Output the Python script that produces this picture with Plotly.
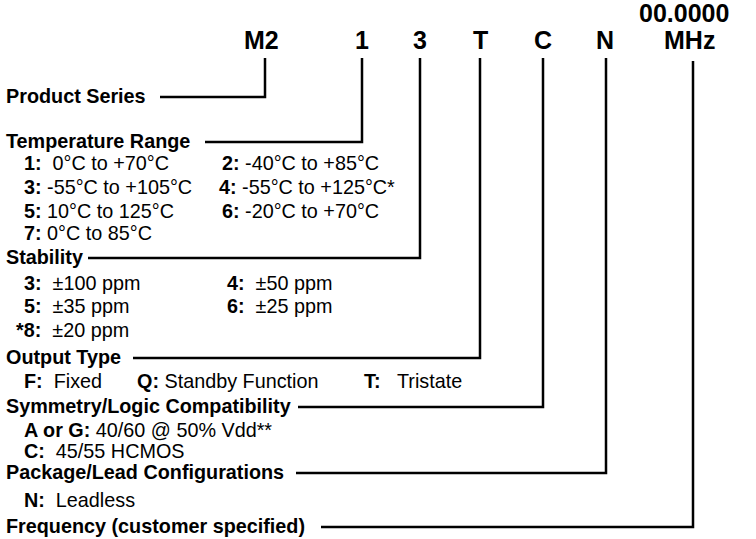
import plotly.graph_objects as go

# ---- content -------------------------------------------------------------
codes = ["M2", "1", "3", "T", "C", "N", "MHz"]
freq_placeholder = "00.0000"
headers = ["Product Series", "Temperature Range", "Stability", "Output Type",
           "Symmetry/Logic Compatibility", "Package/Lead Configurations",
           "Frequency (customer specified)"]

temp_keys = ["1", "2", "3", "4", "5", "6", "7"]
temp_vals = ["0°C to +70°C", "-40°C to +85°C", "-55°C to +105°C",
             "-55°C to +125°C*", "10°C to 125°C", "-20°C to +70°C", "0°C to 85°C"]
stab_keys = ["3", "4", "5", "6", "*8"]
stab_vals = ["±100 ppm", "±50 ppm", "±35 ppm", "±25 ppm", "±20 ppm"]
out_keys = ["F", "Q", "T"]
out_vals = ["Fixed", "Standby Function", "Tristate"]
sym_keys = ["A or G", "C"]
sym_vals = ["40/60 @ 50% Vdd**", "45/55 HCMOS"]
pkg_keys = ["N"]
pkg_vals = ["Leadless"]

# ---- layout geometry (pixels, y downward) ---------------------------------
W, H = 756, 539
code_text_x = [261, 362, 420, 480, 543, 605, 689]
code_line_x = [265, 362, 420, 480, 543, 606, 693]
code_y = 40
line_top = [58, 58, 58, 58, 58, 58, 61]
header_y = [97, 142, 258, 358, 407, 473, 527]
header_line_start = [160, 205, 88, 133, 298, 296, 321]

FONT = "Arial, Liberation Sans, sans-serif"
HS = 19.8  # header / item font size
CS = 25    # code font size
NB = "\u00a0"

fig = go.Figure()

# connector lines
for i in range(len(codes)):
    fig.add_trace(go.Scatter(
        x=[header_line_start[i], code_line_x[i], code_line_x[i]],
        y=[header_y[i], header_y[i], line_top[i]],
        mode="lines", line=dict(color="black", width=2.5),
        hoverinfo="skip", showlegend=False))

ann = []
def text(x, y, s, size=HS, anchor="left", bold=False):
    ann.append(dict(x=x, y=y, xref="x", yref="y", text=("<b>%s</b>" % s) if bold else s,
                    showarrow=False, xanchor=anchor, yanchor="middle",
                    font=dict(family=FONT, size=size, color="black")))

# codes
for c, x in zip(codes, code_text_x):
    text(x, code_y, c, CS, "center", True)
text(684, 13, freq_placeholder, CS, "center", True)

# headers
for h, y in zip(headers, header_y):
    text(4, y - 1, h, HS, "left", True)

def item(x, y, k, v, gap=2):
    text(x, y, "<b>%s:</b>%s%s" % (k, NB * gap, v), HS, "left", False)

# temperature options
temp_pos = [(22, 163, 2), (220, 163, 1), (22, 187, 1), (217, 187, 1),
            (22, 211, 1), (220, 211, 1), (22, 233, 1)]
for (x, y, g), k, v in zip(temp_pos, temp_keys, temp_vals):
    item(x, y, k, v, g)

stab_pos = [(22, 283, 2), (225, 283, 2), (22, 306, 2), (225, 306, 2), (14, 330, 2)]
for (x, y, g), k, v in zip(stab_pos, stab_keys, stab_vals):
    item(x, y, k, v, g)

out_pos = [(22, 381, 2), (135, 381, 1), (362, 381, 3)]
for (x, y, g), k, v in zip(out_pos, out_keys, out_vals):
    item(x, y, k, v, g)

sym_pos = [(22, 430, 1), (22, 451, 2)]
for (x, y, g), k, v in zip(sym_pos, sym_keys, sym_vals):
    item(x, y, k, v, g)

pkg_pos = [(22, 500, 2)]
for (x, y, g), k, v in zip(pkg_pos, pkg_keys, pkg_vals):
    item(x, y, k, v, g)

fig.update_layout(
    width=W, height=H, margin=dict(l=0, r=0, t=0, b=0),
    paper_bgcolor="white", plot_bgcolor="white",
    xaxis=dict(range=[0, W], visible=False, fixedrange=True),
    yaxis=dict(range=[H, 0], visible=False, fixedrange=True),
    annotations=ann, showlegend=False)

fig.write_html("out.html", config={"displayModeBar": False},
               post_script="document.body.style.margin='0';document.body.style.overflow='hidden';")
